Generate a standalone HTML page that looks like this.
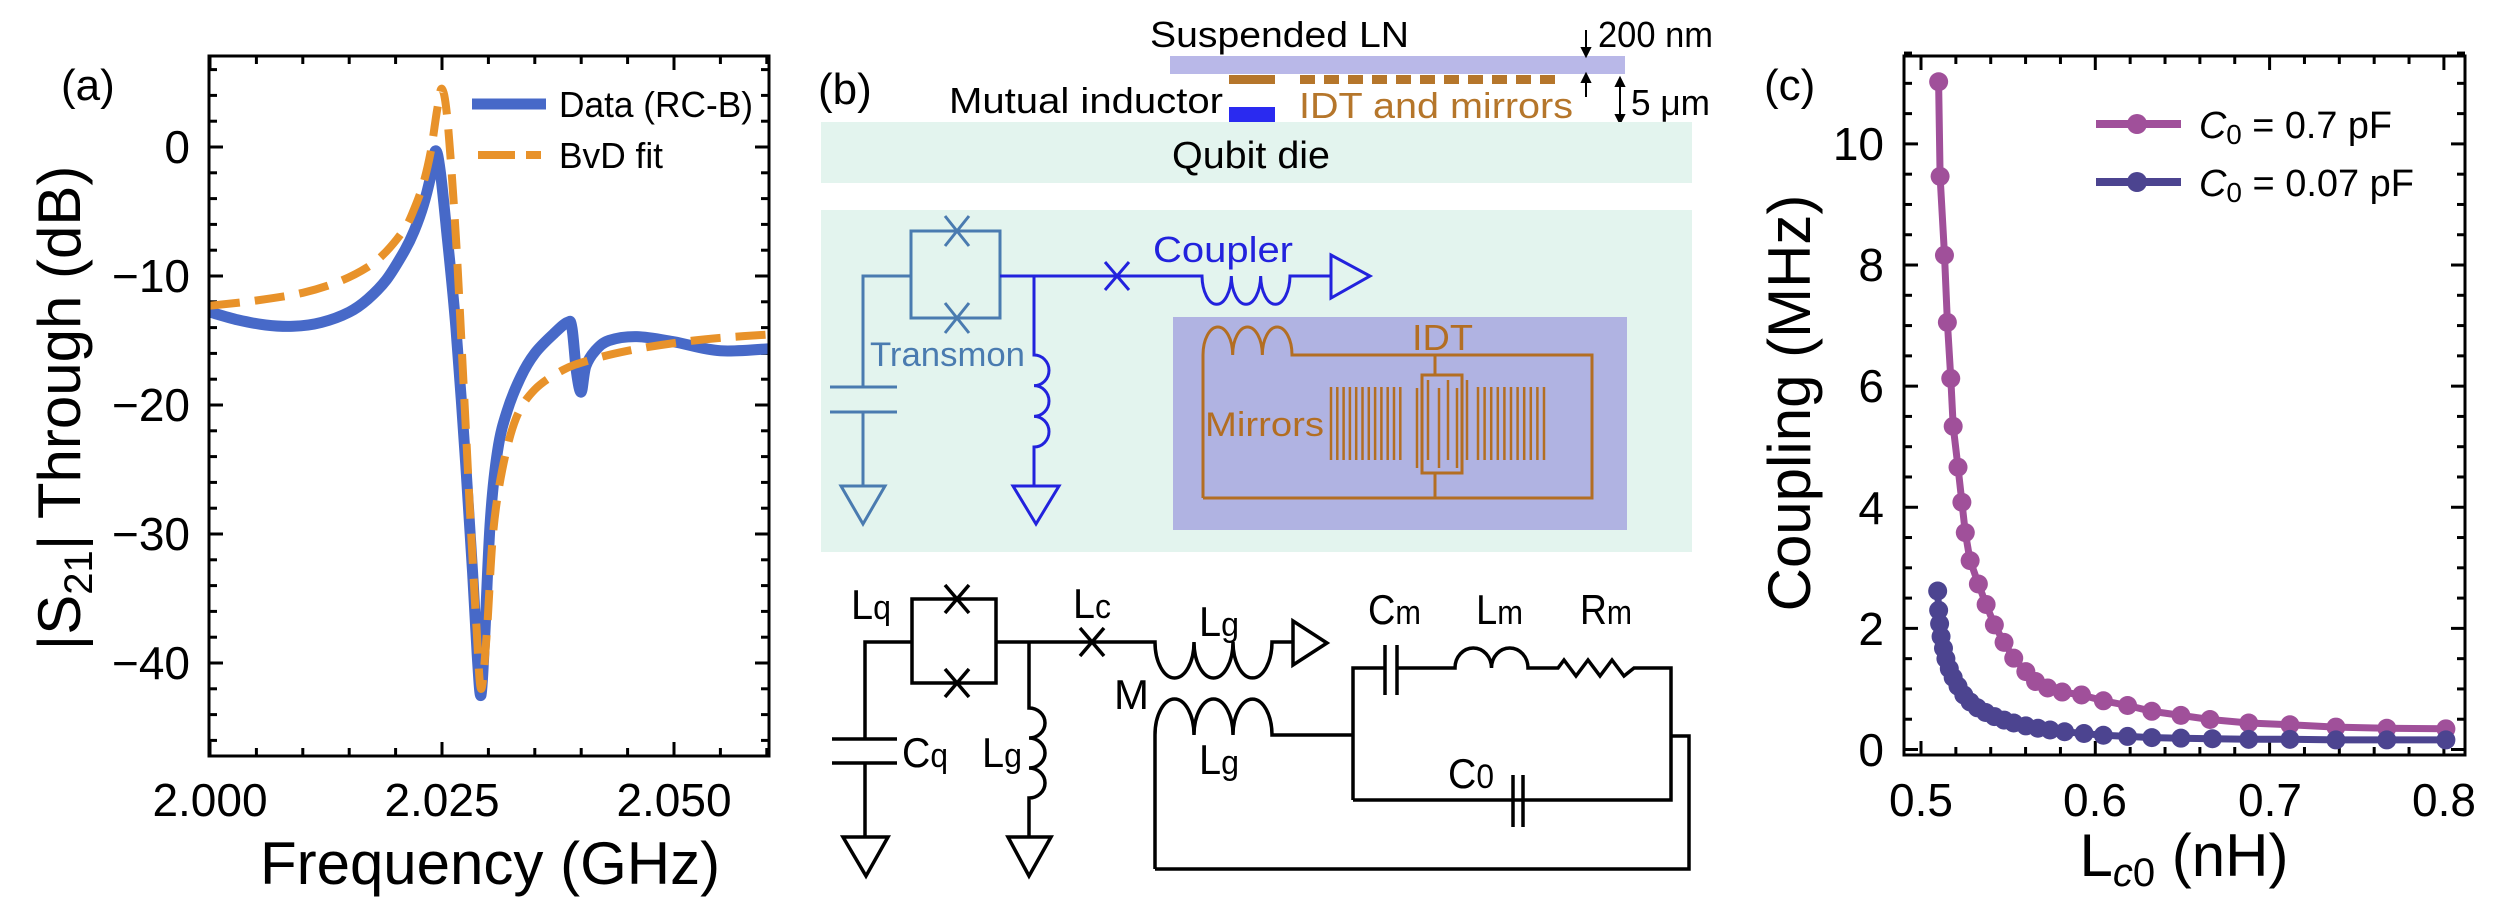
<!DOCTYPE html>
<html><head><meta charset="utf-8">
<style>
html,body{margin:0;padding:0;background:#fff;}
svg{display:block;}
text{font-family:"Liberation Sans",Arial,sans-serif;}
</style></head>
<body>
<svg id="s" width="2500" height="912" viewBox="0 0 2500 912" xmlns="http://www.w3.org/2000/svg">
<rect width="2500" height="912" fill="#fff"/>

<!-- ================= PANEL A ================= -->
<defs>
<clipPath id="ca"><rect x="209" y="56" width="560" height="700"/></clipPath>
<clipPath id="cc"><rect x="1904" y="56" width="561" height="699"/></clipPath>
</defs>
<g id="ticksA" stroke="#000" stroke-width="3"></g>
<g clip-path="url(#ca)">
<path id="blueA" fill="none" stroke="#4769c8" stroke-width="11" stroke-linejoin="round" stroke-linecap="round"/>
<path id="orA" fill="none" stroke="#e8922a" stroke-width="8" stroke-dasharray="30,15" stroke-linejoin="round"/>
</g>
<rect x="209" y="56" width="560" height="700" fill="none" stroke="#000" stroke-width="3"/>
<text x="61" y="100" font-size="44">(a)</text>
<g font-size="46" text-anchor="end">
<text x="190" y="163">0</text>
<text x="190" y="292">−10</text>
<text x="190" y="421">−20</text>
<text x="190" y="550">−30</text>
<text x="190" y="679">−40</text>
</g>
<g font-size="46" text-anchor="middle">
<text x="210" y="816">2.000</text>
<text x="442" y="816">2.025</text>
<text x="674" y="816">2.050</text>
</g>
<text x="490" y="884" font-size="60" text-anchor="middle">Frequency (GHz)</text>
<text transform="translate(80,408) rotate(-90)" font-size="60" text-anchor="middle">|S<tspan font-size="40" dy="12">21</tspan><tspan dy="-12">| Through (dB)</tspan></text>
<line x1="472" y1="104" x2="546" y2="104" stroke="#4769c8" stroke-width="11"/>
<text x="559" y="117" font-size="36" textLength="194" lengthAdjust="spacingAndGlyphs">Data (RC-B)</text>
<path d="M478,155 H515 M526,155 H541" stroke="#e8922a" stroke-width="8"/>
<text x="559" y="168" font-size="36" textLength="104" lengthAdjust="spacingAndGlyphs">BvD fit</text>

<!-- ================= PANEL B ================= -->
<g font-size="36">
<text x="1150" y="47" textLength="259" lengthAdjust="spacingAndGlyphs">Suspended LN</text>
<text x="1598" y="47" textLength="115" lengthAdjust="spacingAndGlyphs">200 nm</text>
<text x="818" y="104" font-size="44">(b)</text>
<text x="949" y="113" textLength="274" lengthAdjust="spacingAndGlyphs">Mutual inductor</text>
<text x="1299" y="118" fill="#b5762b" textLength="274" lengthAdjust="spacingAndGlyphs">IDT and mirrors</text>
<text x="1631" y="115" textLength="79" lengthAdjust="spacingAndGlyphs">5 μm</text>
</g>
<rect x="1170" y="56" width="455" height="18" fill="#b9b8e8"/>
<rect x="1229" y="75" width="46" height="9" fill="#b5762b"/>
<g id="dashes" fill="#b5762b"></g>
<rect x="1229" y="107" width="46" height="15" fill="#2a2af0"/>
<g stroke="#000" stroke-width="2" fill="#000">
<line x1="1586" y1="30" x2="1586" y2="50"/><path d="M1582,48 L1590,48 L1586,56Z"/>
<line x1="1586" y1="97" x2="1586" y2="80"/><path d="M1582,82 L1590,82 L1586,74Z"/>
<line x1="1620" y1="84" x2="1620" y2="117"/><path d="M1616,86 L1624,86 L1620,78Z"/><path d="M1616,115 L1624,115 L1620,123Z"/>
</g>
<rect x="821" y="122" width="871" height="61" fill="#e3f4ee"/>
<text x="1251" y="168" font-size="38" text-anchor="middle" textLength="158" lengthAdjust="spacingAndGlyphs">Qubit die</text>
<rect x="821" y="210" width="871" height="342" fill="#e3f4ee"/>
<rect x="1173" y="317" width="454" height="213" fill="#b0b3e2"/>

<!-- transmon (steel blue) -->
<g stroke="#4a7bb0" stroke-width="3" fill="none">
<rect x="911" y="231" width="89" height="87"/>
<path d="M945,216 L969,246 M969,216 L945,246 M945,303 L969,333 M969,303 L945,333"/>
<path d="M911,276 H863 V387 M830,387 H897 M830,412 H897 M863,412 V486 M841,486 H885 L863,524 Z"/>
</g>
<text x="870" y="366" font-size="34" fill="#4a7bb0" textLength="155" lengthAdjust="spacingAndGlyphs">Transmon</text>
<!-- coupler (blue) -->
<g stroke="#2222dd" stroke-width="3" fill="none">
<path d="M1000,276 H1202 a14.67,29 0 0 0 29.33,0 a14.67,29 0 0 0 29.33,0 a14.67,29 0 0 0 29.33,0 H1331"/>
<path d="M1331,255 L1370,276 L1331,298 Z"/>
<path d="M1105,262 L1129,290 M1129,262 L1105,290"/>
<path d="M1034,276 V355 a15,15.33 0 0 1 0,30.67 a15,15.33 0 0 1 0,30.67 a15,15.33 0 0 1 0,30.67 V486 M1013,486 H1059 L1036,524 Z"/>
</g>
<text x="1153" y="262" font-size="36" fill="#2222dd" textLength="140" lengthAdjust="spacingAndGlyphs">Coupler</text>
<!-- SAW (brown) -->
<g stroke="#b36e22" stroke-width="3" fill="none">
<path d="M1203,498 V355 a14.83,28 0 0 1 29.67,0 a14.83,28 0 0 1 29.67,0 a14.83,28 0 0 1 29.67,0 H1592 V498 H1203"/>
<path d="M1435,356 V375 M1435,473 V498"/>
<rect x="1422" y="375" width="40" height="98"/>
</g>
<g id="mirrors" stroke="#b36e22" stroke-width="2.5"></g>
<text x="1412" y="350" font-size="36" fill="#b36e22" textLength="61" lengthAdjust="spacingAndGlyphs">IDT</text>
<text x="1205" y="436" font-size="34" fill="#b36e22" textLength="119" lengthAdjust="spacingAndGlyphs">Mirrors</text>

<!-- lower circuit -->
<g stroke="#000" stroke-width="3.5" fill="none">
<rect x="912" y="599" width="84" height="84"/>
<path d="M945,585 L969,613 M969,585 L945,613 M945,669 L969,697 M969,669 L945,697"/>
<path d="M912,642 H865 V739 M832,739 H897 M832,763 H897 M865,763 V837 M843,837 H888 L866,876 Z"/>
<path d="M996,642 H1155 a19.5,36 0 0 0 39,0 a19.5,36 0 0 0 39,0 a19.5,36 0 0 0 39,0 H1293"/>
<path d="M1293,621 L1327,643 L1293,665 Z"/>
<path d="M1080,628 L1104,656 M1104,628 L1080,656"/>
<path d="M1029,642 V708 a16,15 0 0 1 0,30 a16,15 0 0 1 0,30 a16,15 0 0 1 0,30 V837 M1008,837 H1051 L1029,876 Z"/>
<path d="M1155,869 V735 a19.5,36 0 0 1 39,0 a19.5,36 0 0 1 39,0 a19.5,36 0 0 1 39,0 H1353"/>
<path d="M1353,800 V668 H1385 M1385,645 V695 M1397,645 V695 M1397,668 H1455 a18.25,20 0 0 1 36.5,0 a18.25,20 0 0 1 36.5,0 H1558 l6,-8 l12,16 l12,-16 l12,16 l12,-16 l12,16 l10,-8 H1671 V800 H1513 M1513,775 V827 M1523,775 V827 M1523,800 H1353"/>
<path d="M1671,736 H1689 V869 H1155"/>
</g>
<g font-size="42">
<text x="851" y="619" textLength="40" lengthAdjust="spacingAndGlyphs">L<tspan font-size="34">q</tspan></text>
<text x="1073" y="618" textLength="38" lengthAdjust="spacingAndGlyphs">L<tspan font-size="34">c</tspan></text>
<text x="1199" y="636" textLength="40" lengthAdjust="spacingAndGlyphs">L<tspan font-size="34">g</tspan></text>
<text x="1114" y="709" textLength="35" lengthAdjust="spacingAndGlyphs">M</text>
<text x="902" y="767" textLength="46" lengthAdjust="spacingAndGlyphs">C<tspan font-size="34">q</tspan></text>
<text x="982" y="767" textLength="40" lengthAdjust="spacingAndGlyphs">L<tspan font-size="34">g</tspan></text>
<text x="1199" y="774" textLength="40" lengthAdjust="spacingAndGlyphs">L<tspan font-size="34">g</tspan></text>
<text x="1368" y="624" textLength="53" lengthAdjust="spacingAndGlyphs">C<tspan font-size="34">m</tspan></text>
<text x="1476" y="624" textLength="47" lengthAdjust="spacingAndGlyphs">L<tspan font-size="34">m</tspan></text>
<text x="1580" y="624" textLength="52" lengthAdjust="spacingAndGlyphs">R<tspan font-size="34">m</tspan></text>
<text x="1448" y="788" textLength="46" lengthAdjust="spacingAndGlyphs">C<tspan font-size="34">0</tspan></text>
</g>

<!-- ================= PANEL C ================= -->
<g id="ticksC" stroke="#000" stroke-width="3"></g>
<g clip-path="url(#cc)">
<g id="pinkC"></g>
<g id="blueC"></g>
</g>
<rect x="1904" y="56" width="561" height="699" fill="none" stroke="#000" stroke-width="3"/>
<text x="1764" y="100" font-size="44">(c)</text>
<g font-size="46" text-anchor="end">
<text x="1884" y="766">0</text>
<text x="1884" y="645">2</text>
<text x="1884" y="524">4</text>
<text x="1884" y="402">6</text>
<text x="1884" y="281">8</text>
<text x="1884" y="160">10</text>
</g>
<g font-size="46" text-anchor="middle">
<text x="1921" y="816">0.5</text>
<text x="2095" y="816">0.6</text>
<text x="2270" y="816">0.7</text>
<text x="2444" y="816">0.8</text>
</g>
<text transform="translate(1810,403) rotate(-90)" font-size="60" text-anchor="middle">Coupling (MHz)</text>
<text x="2184" y="876" font-size="60" text-anchor="middle">L<tspan font-size="40" dy="10" font-style="italic">c</tspan><tspan font-size="40">0</tspan><tspan dy="-10"> (nH)</tspan></text>
<line x1="2096" y1="124" x2="2181" y2="124" stroke="#a0509a" stroke-width="8"/>
<circle cx="2137" cy="124" r="10" fill="#a0509a"/>
<text x="2199" y="138" font-size="38" textLength="193" lengthAdjust="spacingAndGlyphs"><tspan font-style="italic">C</tspan><tspan font-size="28" dy="6">0</tspan><tspan dy="-6"> = 0.7 pF</tspan></text>
<line x1="2096" y1="182" x2="2181" y2="182" stroke="#4c4490" stroke-width="8"/>
<circle cx="2137" cy="182" r="10" fill="#4c4490"/>
<text x="2199" y="196" font-size="38" textLength="215" lengthAdjust="spacingAndGlyphs"><tspan font-style="italic">C</tspan><tspan font-size="28" dy="6">0</tspan><tspan dy="-6"> = 0.07 pF</tspan></text>
</svg>
<script>
(function(){
var NS="http://www.w3.org/2000/svg";
function el(p,t,a){var e=document.createElementNS(NS,t);for(var k in a)e.setAttribute(k,a[k]);p.appendChild(e);return e;}
function smooth(P){var d="M"+P[0][0].toFixed(1)+","+P[0][1].toFixed(1);
 for(var i=0;i<P.length-1;i++){var p0=P[i-1]||P[i],p1=P[i],p2=P[i+1],p3=P[i+2]||p2;
  var c1=[p1[0]+(p2[0]-p0[0])/6,p1[1]+(p2[1]-p0[1])/6],c2=[p2[0]-(p3[0]-p1[0])/6,p2[1]-(p3[1]-p1[1])/6];
  d+=" C"+c1[0].toFixed(1)+","+c1[1].toFixed(1)+" "+c2[0].toFixed(1)+","+c2[1].toFixed(1)+" "+p2[0].toFixed(1)+","+p2[1].toFixed(1);}
 return d;}
var xa=function(f){return 210+(f-2)*9280;}, ya=function(d){return 147-d*12.9;};
var B=[[2.000,-12.8],[2.003,-13.4],[2.006,-13.8],[2.009,-13.9],[2.012,-13.6],[2.015,-12.8],[2.017,-11.8],[2.019,-10.3],[2.021,-8.0],[2.022,-6.5],[2.023,-4.5],[2.0238,-2.2],[2.0243,-0.3],[2.0248,-1.8],[2.0255,-6.5],[2.0265,-14],[2.0275,-24],[2.0283,-33],[2.0288,-39.5],[2.0292,-42.5],[2.0296,-38],[2.0302,-29],[2.031,-23.5],[2.032,-20.5],[2.0335,-17.8],[2.035,-16],[2.037,-14.5],[2.0385,-13.6],[2.039,-14],[2.0395,-17.5],[2.0400,-19],[2.0405,-17],[2.0415,-15.8],[2.043,-15],[2.046,-14.7],[2.050,-15.1],[2.055,-15.8],[2.061,-15.6]];
var O=[[2.000,-12.3],[2.005,-11.9],[2.010,-11.3],[2.014,-10.4],[2.017,-9.3],[2.019,-8.1],[2.021,-6.3],[2.022,-4.8],[2.023,-2.8],[2.0238,-0.3],[2.0245,3],[2.025,4.5],[2.0256,2],[2.0265,-7],[2.0273,-18],[2.028,-28],[2.0287,-37],[2.0292,-42],[2.0298,-38],[2.0305,-30],[2.0315,-25],[2.033,-21],[2.035,-18.8],[2.038,-17.3],[2.041,-16.5],[2.045,-15.8],[2.050,-15.2],[2.055,-14.8],[2.061,-14.5]];
document.getElementById("blueA").setAttribute("d",smooth(B.map(function(p){return[xa(p[0]),ya(p[1])];})));
document.getElementById("orA").setAttribute("d",smooth(O.map(function(p){return[xa(p[0]),ya(p[1])];})));
var tA=document.getElementById("ticksA");
for(var i=0;i<=12;i++){var x=xa(2+i*0.005),L=(i%5==0)?14:8;
 el(tA,"line",{x1:x,y1:756,x2:x,y2:756-L});el(tA,"line",{x1:x,y1:56,x2:x,y2:56+L});}
for(var d=-46;d<=6;d+=2){var y=ya(d),L=(d%10==0)?14:8;
 el(tA,"line",{x1:209,y1:y,x2:209+L,y2:y});el(tA,"line",{x1:769,y1:y,x2:769-L,y2:y});}
var g=document.getElementById("dashes");
for(var k=0;k<11;k++)el(g,"rect",{x:1300+k*24,y:75,width:15,height:9});
var m=document.getElementById("mirrors");
for(var k=0;k<12;k++){var x=1331+k*6.3;el(m,"line",{x1:x,y1:387,x2:x,y2:460});}
for(var k=0;k<11;k++){var x=1478+k*6.6;el(m,"line",{x1:x,y1:387,x2:x,y2:460});}
[1417,1428,1439,1448,1457,1467].forEach(function(x,i){el(m,"line",{x1:x,y1:i%2?380:388,x2:x,y2:i%2?460:468});});
var xc=function(v){return 1921+(v-0.5)*1743;}, yc=function(v){return 749.5-v*60.56;};
var tC=document.getElementById("ticksC");
for(var i=0;i<=16;i++){var v=0.5+i*0.02;if(v>0.812)break;var x=xc(v),L=(Math.abs((v*10)-Math.round(v*10))<1e-6)?14:8;
 el(tC,"line",{x1:x,y1:755,x2:x,y2:755-L});el(tC,"line",{x1:x,y1:56,x2:x,y2:56+L});}
for(var i=0;i<=23;i++){var v=i*0.5,y=yc(v),L=(i%4==0)?14:8;
 el(tC,"line",{x1:1904,y1:y,x2:1904+L,y2:y});el(tC,"line",{x1:2465,y1:y,x2:2465-L,y2:y});}
function Z(zx,zy){return[1740+zx/2.064,zy*0.584];}
var P=[[410,140],[413,302],[422,437],[428,552],[435,648],[440,730],[450,800],[458,860],[465,912],[475,960],[492,1000],[508,1035],[525,1070],[545,1100],[565,1127],[590,1150],[610,1167],[635,1178],[665,1185],[705,1190],[750,1200],[800,1208],[850,1218],[910,1225],[970,1232],[1050,1238],[1135,1241],[1230,1245],[1335,1247],[1457,1248]].map(function(p){return Z(p[0],p[1]);});
var Q=[[408,1012],[410,1045],[412,1068],[415,1090],[420,1110],[425,1128],[432,1145],[440,1160],[450,1175],[462,1190],[475,1202],[490,1212],[507,1220],[525,1227],[545,1233],[565,1238],[590,1243],[615,1247],[640,1250],[670,1253],[710,1256],[750,1259],[800,1261],[850,1263],[910,1264],[975,1265],[1050,1266],[1135,1266],[1230,1267],[1335,1267],[1457,1267]].map(function(p){return Z(p[0],p[1]);});
function series(id,pts,col){var g=document.getElementById(id);
 el(g,"polyline",{points:pts.map(function(p){return p[0].toFixed(1)+","+p[1].toFixed(1);}).join(" "),fill:"none",stroke:col,"stroke-width":7,"stroke-linejoin":"round"});
 pts.forEach(function(p){el(g,"circle",{cx:p[0],cy:p[1],r:9.5,fill:col});});}
series("pinkC",P,"#a0509a");series("blueC",Q,"#4c4490");
})();
</script>
</body></html>
